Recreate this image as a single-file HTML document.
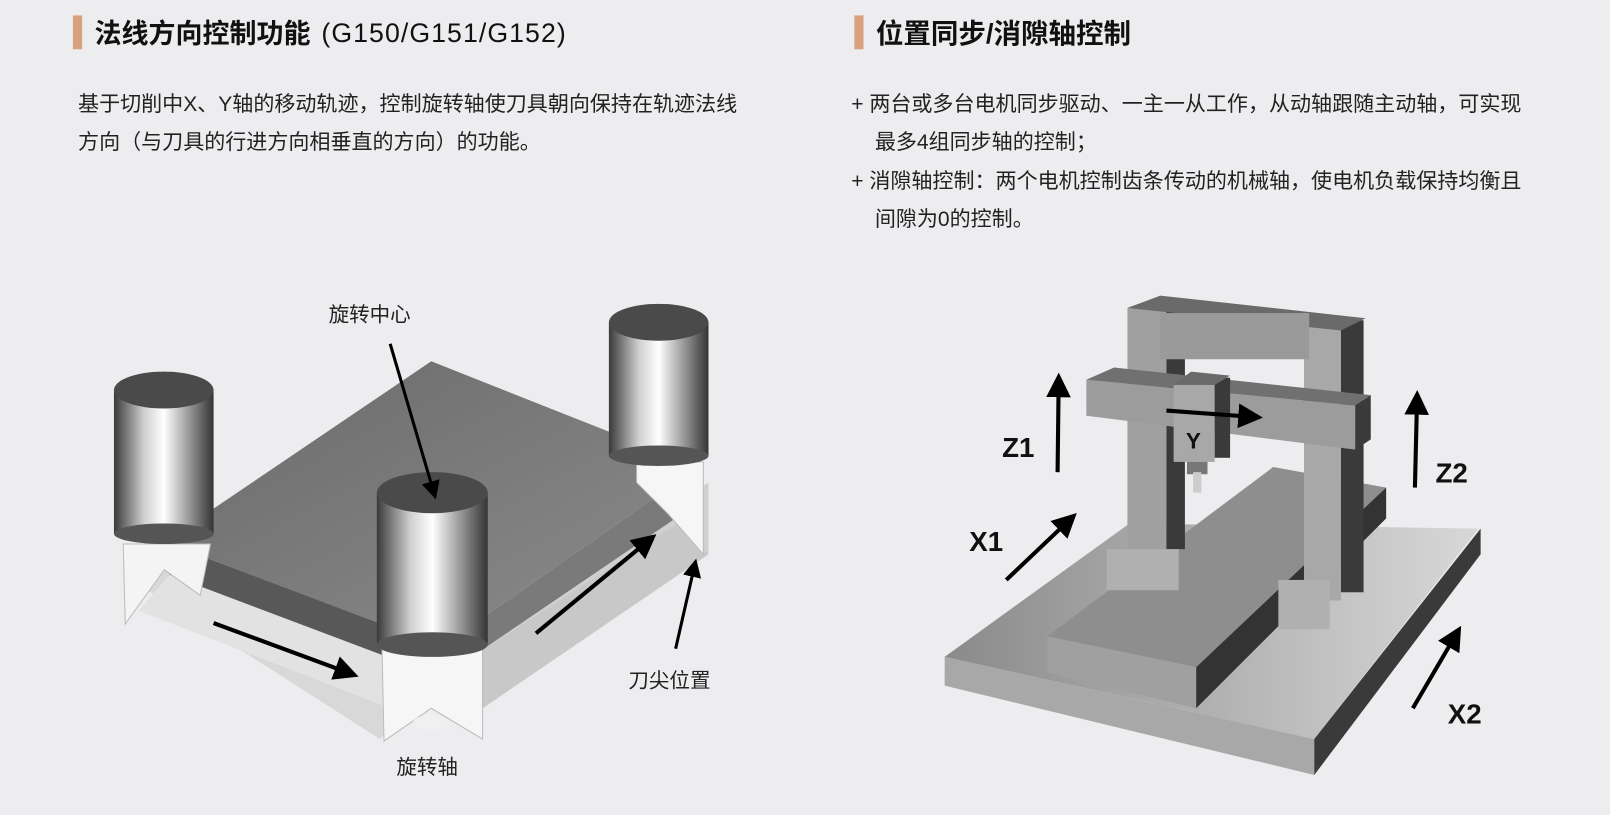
<!DOCTYPE html>
<html><head><meta charset="utf-8"><style>
html,body{margin:0;padding:0;background:#ededef;}
svg{display:block}
text{font-family:"Liberation Sans","Noto Sans CJK SC",sans-serif;}
</style></head><body>
<svg width="1610" height="815" viewBox="0 0 1568 794" preserveAspectRatio="none" xmlns="http://www.w3.org/2000/svg">
<defs>
<linearGradient id="cyl" x1="0" x2="1" y1="0" y2="0">
<stop offset="0" stop-color="#3a3a3a"/><stop offset="0.3" stop-color="#cfcfcf"/><stop offset="0.5" stop-color="#fff"/><stop offset="0.75" stop-color="#9a9a9a"/><stop offset="1" stop-color="#333"/></linearGradient>
<linearGradient id="top" x1="0" x2="1" y1="0" y2="1"><stop offset="0" stop-color="#6a6a6a"/><stop offset="1" stop-color="#8c8c8c"/></linearGradient>
<linearGradient id="base" x1="0" x2="1"><stop offset="0" stop-color="#8a8a8a"/><stop offset="1" stop-color="#d8d8d8"/></linearGradient>
<marker id="ah" markerWidth="6" markerHeight="6" refX="3" refY="3" orient="auto" markerUnits="strokeWidth"><path d="M0,0 L6,3 L0,6 z" fill="#000"/></marker>
</defs>
<rect width="1568" height="794" fill="#ededef"/>
<rect x="71" y="15" width="9" height="33" fill="#d9a27e"/>
<text x="92" y="42" font-size="26.3" font-weight="bold" fill="#111">法线方向控制功能</text>
<text x="313" y="41" font-size="26" fill="#111" textLength="238">(G150/G151/G152)</text>
<rect x="832" y="15" width="9" height="33" fill="#d9a27e"/>
<text x="853" y="42" font-size="26.8" font-weight="bold" fill="#111">位置同步/消隙轴控制</text>
<text x="76" y="108" font-size="20.5" fill="#222">基于切削中X、Y轴的移动轨迹，控制旋转轴使刀具朝向保持在轨迹法线</text>
<text x="76" y="145" font-size="20.5" fill="#222">方向（与刀具的行进方向相垂直的方向）的功能。</text>
<text x="829" y="108" font-size="20.5" fill="#222">+ 两台或多台电机同步驱动、一主一从工作，从动轴跟随主动轴，可实现</text>
<text x="852" y="145" font-size="20.5" fill="#222">最多4组同步轴的控制；</text>
<text x="829" y="183" font-size="20.5" fill="#222">+ 消隙轴控制：两个电机控制齿条传动的机械轴，使电机负载保持均衡且</text>
<text x="852" y="220" font-size="20.5" fill="#222">间隙为0的控制。</text>

<polygon points="120,560 160,528 430,660 370,720" fill="#d8d8d8"/>
<polygon points="430,660 690,470 690,540 470,690" fill="#d0d0d0"/>
<polygon points="160,528 420,352 680,455 430,630" fill="url(#top)"/>
<polygon points="160,528 430,630 430,660 165,560" fill="#585858"/>
<polygon points="430,630 680,455 680,490 430,660" fill="#7a7a7a"/>
<polygon points="135,595 165,560 430,660 380,690" fill="#e2e2e2"/>
<polygon points="460,640 660,510 690,540 470,690" fill="#c8c8c8"/>
<polygon points="120,530 205,530 195,580 160,555 122,608" fill="#f4f4f4" stroke="#bbb"/>
<polygon points="620,450 685,450 685,540 650,500 620,470" fill="#f6f6f6" stroke="#bbb"/>
<polygon points="372,630 470,630 470,720 420,690 374,722" fill="#f6f6f6" stroke="#bbb"/>
<ellipse cx="420" cy="704" rx="18" ry="7" fill="#f0f0f0"/>
<rect x="111" y="380" width="97" height="140" fill="url(#cyl)"/><ellipse cx="159.5" cy="520" rx="48.5" ry="10" fill="#555"/><ellipse cx="159.5" cy="380" rx="48.5" ry="18" fill="#4a4a4a"/>
<rect x="593" y="314" width="97" height="130" fill="url(#cyl)"/><ellipse cx="641.5" cy="444" rx="48.5" ry="10" fill="#555"/><ellipse cx="641.5" cy="314" rx="48.5" ry="18" fill="#4a4a4a"/>
<rect x="367" y="480" width="108" height="148" fill="url(#cyl)"/><ellipse cx="421" cy="628" rx="54" ry="12" fill="#555"/><ellipse cx="421" cy="480" rx="54" ry="20" fill="#4a4a4a"/>
<line x1="208" y1="607" x2="338" y2="655" stroke="#000" stroke-width="4" marker-end="url(#ah)"/>
<line x1="522" y1="617" x2="630" y2="528" stroke="#000" stroke-width="4" marker-end="url(#ah)"/>
<line x1="380" y1="335" x2="422" y2="478" stroke="#000" stroke-width="3" marker-end="url(#ah)"/>
<line x1="658" y1="632" x2="676" y2="553" stroke="#000" stroke-width="3" marker-end="url(#ah)"/>
<text x="320" y="313" font-size="20" fill="#222">旋转中心</text>
<text x="612" y="670" font-size="20" fill="#222">刀尖位置</text>
<text x="386" y="754" font-size="20" fill="#222">旋转轴</text>

<polygon points="920,640 1100,510 1440,515 1280,720" fill="url(#base)"/>
<polygon points="920,640 1280,720 1280,755 920,668" fill="#a8a8a8"/>
<polygon points="1280,720 1442,515 1442,540 1280,755" fill="#3a3a3a"/>
<polygon points="1020,620 1240,455 1350,475 1165,680 1165,650 1020,620" fill="#8e8e8e"/>
<polygon points="1020,620 1165,650 1165,690 1020,655" fill="#a0a0a0"/>
<polygon points="1165,650 1350,475 1350,505 1165,690" fill="#333"/>
<rect x="1098" y="300" width="38" height="240" fill="#a0a0a0"/><rect x="1136" y="300" width="18" height="235" fill="#3a3a3a"/>
<rect x="1270" y="315" width="36" height="270" fill="#a8a8a8"/><rect x="1306" y="312" width="22" height="265" fill="#3a3a3a"/>
<polygon points="1098,300 1130,288 1330,310 1306,322" fill="#6a6a6a"/>
<rect x="1130" y="305" width="145" height="45" fill="#9a9a9a"/>
<rect x="1078" y="535" width="70" height="40" fill="#b0b0b0"/>
<rect x="1245" y="565" width="50" height="48" fill="#b0b0b0"/>
<polygon points="1058,370 1320,395 1320,438 1058,405" fill="#9c9c9c"/>
<polygon points="1058,370 1085,358 1335,385 1320,395" fill="#707070"/>
<polygon points="1320,395 1335,385 1335,428 1320,438" fill="#3a3a3a"/>
<rect x="1143" y="375" width="40" height="75" fill="#a8a8a8"/><rect x="1183" y="368" width="15" height="78" fill="#3a3a3a"/>
<polygon points="1143,375 1160,362 1198,366 1183,375" fill="#6a6a6a"/>
<rect x="1156" y="450" width="20" height="12" fill="#777"/><rect x="1162" y="460" width="8" height="20" fill="#ccc"/>
<text x="1155" y="437" font-size="22" font-weight="bold" fill="#111">Y</text>
<line x1="1136" y1="400" x2="1218" y2="406" stroke="#000" stroke-width="4" marker-end="url(#ah)"/>
<line x1="1030" y1="460" x2="1031" y2="375" stroke="#000" stroke-width="4" marker-end="url(#ah)"/>
<line x1="1378" y1="475" x2="1380" y2="392" stroke="#000" stroke-width="4" marker-end="url(#ah)"/>
<line x1="980" y1="565" x2="1040" y2="508" stroke="#000" stroke-width="4" marker-end="url(#ah)"/>
<line x1="1376" y1="690" x2="1417" y2="620" stroke="#000" stroke-width="4" marker-end="url(#ah)"/>
<text x="976" y="445" font-size="27" font-weight="bold" fill="#111">Z1</text>
<text x="1398" y="470" font-size="27" font-weight="bold" fill="#111">Z2</text>
<text x="944" y="537" font-size="27" font-weight="bold" fill="#111">X1</text>
<text x="1410" y="705" font-size="27" font-weight="bold" fill="#111">X2</text>
</svg>
</body></html>
